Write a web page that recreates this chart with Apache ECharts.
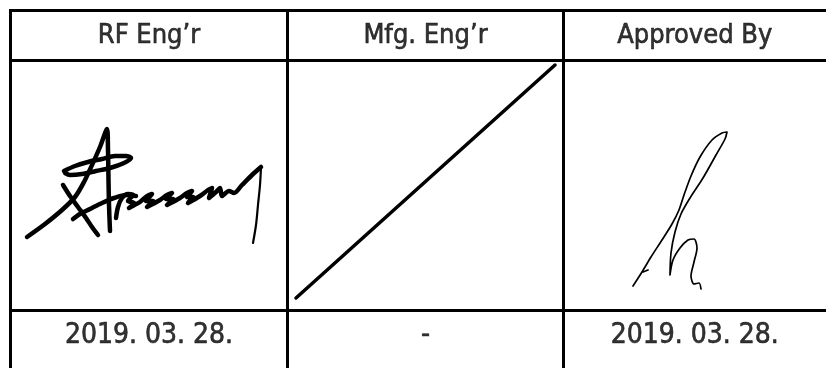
<!DOCTYPE html>
<html>
<head>
<meta charset="utf-8">
<title>Approval table</title>
<script src="https://cdn.jsdelivr.net/npm/echarts@6/dist/echarts.min.js"></script>
<style>
html, body { margin: 0; padding: 0; background: #fff; }
#chart { width: 826px; height: 368px; }
</style>
</head>
<body>
<div id="chart"></div>
<script>
// 表格边界（坐标单位与画布像素一致）
const colEdges = [10.5, 287.5, 563.5, 826]
const rowEdges = [10.5, 60.5, 310.5, 360]

// 表头与日期
const headerLabels = ['RF Eng’r', 'Mfg. Eng’r', 'Approved By']
const dateLabels = ['2019. 03. 28.', '-', '2019. 03. 28.']

// Mfg. 栏的作废斜线
const voidLine = [[296, 298], [555, 65]]

// RF Eng'r 签名笔画
const sigRfStrokes = [
  [[27, 237], [45, 224], [62, 210], [75, 197], [84, 182], [92, 165], [100, 147], [107, 129],
   [108, 150], [108.5, 180], [109, 205], [110, 231]],
  [[64, 171], [75, 166], [88, 162], [102, 159], [115, 156], [126, 156], [131, 158], [124, 163],
   [110, 168], [96, 171], [82, 174], [70, 175], [65, 173]],
  [[63, 185], [70, 196], [78, 207], [86, 218], [92, 227], [98, 235]],
  [[73, 219], [80, 214], [90, 209], [102, 203], [114, 198], [126, 195], [136, 196]],
  [[116, 218], [118, 207], [122, 198], [128, 194], [133, 195], [128, 201], [134, 203], [129, 208],
   [140, 202], [147, 196], [152, 194], [146, 201], [153, 201], [147, 207],
   [160, 200], [167, 195], [172, 193], [166, 199], [173, 199], [167, 205],
   [180, 198], [187, 193], [192, 191], [187, 197], [193, 197], [188, 203],
   [200, 196], [208, 190], [212, 188], [209, 198], [216, 192], [220, 188], [222, 196], [229, 191],
   [234, 193], [242, 185], [252, 175], [261, 167]]
]
const sigRfTail = [[261, 167], [260, 185], [258, 205], [256, 225], [253, 243]]

// Approved By 签名笔画
const sigApprovedStrokes = [
  [[633, 286], [642, 272], [651, 257], [662, 240], [672, 224], [679, 210], [684, 195], [691, 176],
   [700, 157], [712, 140], [722, 133], [727, 132], [725, 139], [716, 155], [703, 178], [690, 198],
   [681, 214], [675, 232], [671, 253], [670, 275], [673, 260], [680, 248], [688, 240], [694, 239],
   [697, 248], [694, 262], [691, 276], [694, 284], [699, 283], [701, 289]],
  [[643, 272], [648, 270]]
]

const chart = echarts.init(document.getElementById('chart'))

const textFont = '"DejaVu Sans Condensed", "DejaVu Sans", sans-serif'

// 表格线
const ruleData = []
rowEdges.slice(0, 3).forEach(y => {
  ruleData.push({ coords: [[colEdges[0] - 1.5, y], [colEdges[3], y]] })
})
colEdges.slice(0, 3).forEach(x => {
  ruleData.push({ coords: [[x, rowEdges[0]], [x, 368]] })
})

const centers = colEdges.slice(0, 3).map((x, i) => (x + colEdges[i + 1]) / 2)
const headerY = (rowEdges[0] + rowEdges[1]) / 2
const dateY = (rowEdges[2] + rowEdges[3]) / 2

const textSeries = (labels, y, size) => ({
  type: 'scatter',
  symbolSize: 1,
  itemStyle: { color: 'transparent' },
  silent: true,
  data: labels.map((t, i) => [centers[i], y, t]),
  label: {
    show: true,
    position: 'inside',
    formatter: p => p.value[2],
    color: '#000',
    textBorderColor: '#000',
    textBorderWidth: 0.6,
    fontFamily: textFont,
    fontSize: size
  }
})

const strokeSeries = (pts, width) => ({
  type: 'line',
  data: pts,
  showSymbol: false,
  smooth: 0.3,
  silent: true,
  lineStyle: { color: '#000', width: width, cap: 'round', join: 'round' }
})

const series = [
  {
    type: 'lines',
    coordinateSystem: 'cartesian2d',
    silent: true,
    lineStyle: { color: '#000', width: 3, opacity: 1 },
    data: ruleData
  },
  {
    type: 'line',
    data: voidLine,
    showSymbol: false,
    silent: true,
    lineStyle: { color: '#000', width: 3.5, cap: 'round' }
  },
  textSeries(headerLabels, headerY, 27),
  textSeries(dateLabels, dateY, 28)
]
sigRfStrokes.forEach(s => series.push(strokeSeries(s, 4.5)))
series.push(strokeSeries(sigRfTail, 2.2))
sigApprovedStrokes.forEach(s => series.push(strokeSeries(s, 1.7)))

chart.setOption({
  backgroundColor: '#fff',
  animation: false,
  grid: { left: 0, right: 0, top: 0, bottom: 0 },
  xAxis: { type: 'value', min: 0, max: 826, show: false },
  yAxis: { type: 'value', min: 0, max: 368, inverse: true, show: false },
  series: series
})

window.addEventListener('resize', () => chart.resize())
</script>
</body>
</html>
